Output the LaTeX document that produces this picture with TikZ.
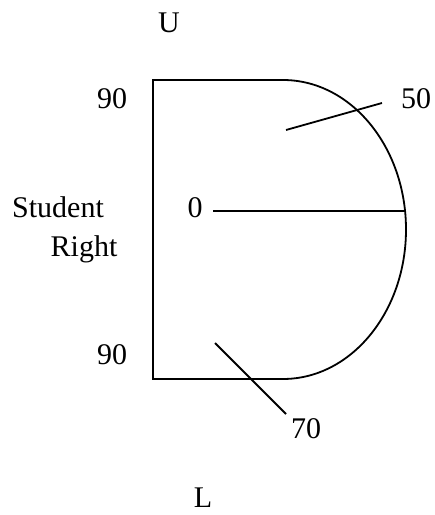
\documentclass[tikz,border=0pt]{standalone}
\usepackage{fontspec}
\setmainfont{Liberation Serif}
\begin{document}
\begin{tikzpicture}[x=1pt,y=1pt,
  lbl/.style={anchor=base,inner sep=0pt,font=\fontsize{30}{36}\selectfont},
  edge/.style={line width=1.8pt,line cap=butt,line join=miter}]
\useasboundingbox (0,0) rectangle (435,515);
% shape
\draw[edge] (283,136) arc[start angle=-90,end angle=90,x radius=123,y radius=149.5]
  -- (153,435) -- (153,136) -- cycle;
% labels
\node[lbl] (u) at (169,482) {U};
\node[lbl] (n90a) at (112,406) {90};
\node[lbl] (n50) at (416,406) {50};
\node[lbl] (stu) at (58,297) {Student};
\node[lbl] (rgt) at (84,258) {Right};
\node[lbl] (n0) at (195,297) {0};
\node[lbl] (n90b) at (112,150) {90};
\node[lbl] (n70) at (306,76) {70};
\node[lbl] (l) at (203,8) {L};
% leader lines
\coordinate (a50) at (382,412);
\coordinate (b50) at (286,385);
\coordinate (a0) at (213,304);
\coordinate (b0) at (405,304);
\coordinate (a70) at (286,101);
\coordinate (b70) at (215,172);
\draw[edge] (a50) -- (b50);
\draw[edge] (a0) -- (b0);
\draw[edge] (a70) -- (b70);
\end{tikzpicture}
\end{document}
